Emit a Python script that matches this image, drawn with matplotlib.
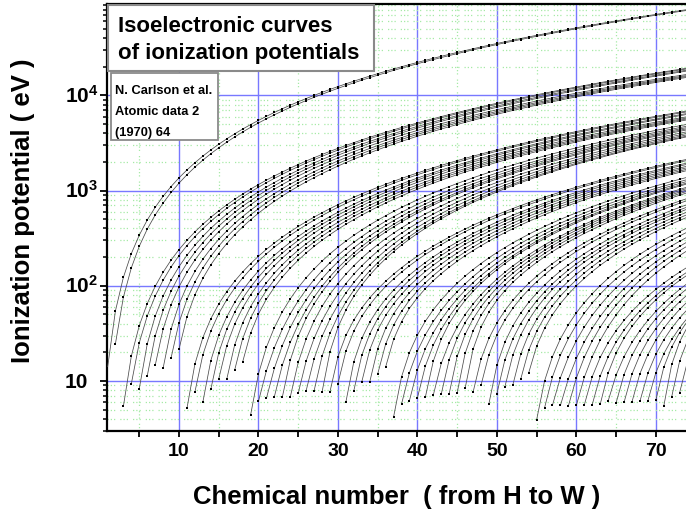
import numpy as np
import matplotlib
matplotlib.use("Agg")
import matplotlib.pyplot as plt
from matplotlib.ticker import FixedLocator, NullFormatter, LogLocator
from matplotlib.patches import Rectangle
from matplotlib import transforms

plt.rcParams["font.family"] = ["Liberation Sans", "DejaVu Sans"]
plt.rcParams["mathtext.fontset"] = "custom"
plt.rcParams["mathtext.rm"] = "Liberation Sans:bold"
plt.rcParams["mathtext.bf"] = "Liberation Sans:bold"
plt.rcParams["mathtext.it"] = "Liberation Sans:bold:italic"

# Elements shown on the x axis: hydrogen (Z=1) through tungsten (Z=74)
z_max = 74

# First ionization energies of the neutral atoms, Z = 1..74 (eV)
first_ip = [
    13.598, 24.587, 5.392, 9.323, 8.298, 11.260, 14.534, 13.618, 17.423, 21.565,
    5.139, 7.646, 5.986, 8.152, 10.487, 10.360, 12.968, 15.760, 4.341, 6.113,
    6.561, 6.828, 6.746, 6.767, 7.434, 7.902, 7.881, 7.640, 7.726, 9.394,
    5.999, 7.899, 9.789, 9.752, 11.814, 14.000, 4.177, 5.695, 6.217, 6.634,
    6.759, 7.092, 7.280, 7.361, 7.459, 8.337, 7.576, 8.994, 5.786, 7.344,
    8.608, 9.010, 10.451, 12.130, 3.894, 5.212, 5.577, 5.539, 5.473, 5.525,
    5.582, 5.644, 5.670, 6.150, 5.864, 5.939, 6.022, 6.108, 6.184, 6.254,
    5.426, 6.825, 7.550, 7.864,
]

# Second ionization energies, Z = 2..74 (eV): singly charged ions
second_ip = [
    54.418, 75.640, 18.211, 25.155, 24.383, 29.601, 35.121, 34.971, 40.963,
    47.286, 15.035, 18.829, 16.346, 19.770, 23.338, 23.814, 27.630,
    31.630, 11.872, 12.800, 13.576, 14.618, 16.486, 15.640, 16.199, 17.084,
    18.169, 20.292, 17.964, 20.515, 15.934, 18.589, 21.190, 21.810, 24.360,
    27.290, 11.030, 12.240, 13.130, 14.320, 16.160, 15.260, 16.760, 18.080,
    19.430, 21.480, 16.908, 18.870, 14.632, 16.530, 18.600, 19.131, 20.980,
    23.157, 10.004, 11.060, 10.850, 10.550, 10.730, 10.900, 11.070, 11.240,
    12.090, 11.520, 11.670, 11.800, 11.930, 12.050, 12.176, 13.900,
    14.900, 16.200, 16.100,
]

# Subshell filling order of highly charged ions (j-j coupling) and capacities
subshell_labels = ["1s", "2s", "2p-", "2p+", "3s", "3p-", "3p+", "3d-", "3d+",
                   "4s", "4p-", "4p+", "4d-", "4d+", "4f-", "4f+",
                   "5s", "5p-", "5p+", "5d-", "5d+"]
subshell_capacity = [2, 2, 2, 4, 2, 2, 4, 4, 6,
                     2, 2, 4, 4, 6, 6, 8,
                     2, 2, 4, 4, 6]

x_ticks = [10, 20, 30, 40, 50, 60, 70]
x_minor = [5, 15, 25, 35, 45, 55, 65]
y_ticks = [10, 100, 1000, 10000]
y_tick_labels = ["10", "$10^{2}$", "$10^{3}$", "$10^{4}$"]

RYDBERG = 13.6057
ALPHA = 1.0 / 137.036
L_OF = {"s": 0, "p": 1, "d": 2, "f": 3}


def outer_subshell(n_electrons):
    total = 0
    for label, cap in zip(subshell_labels, subshell_capacity):
        total += cap
        if n_electrons <= total:
            n = int(label[0])
            l = L_OF[label[1]]
            j = l - 0.5 if label.endswith("-") else l + 0.5
            return n, j
    return 5, 2.5


def isoelectronic_curve(n_el):
    """Screened-hydrogen (Moseley) scaling of the ionization potential along
    the sequence with n_el electrons, pinned to the neutral atom and the
    singly charged ion, with the Dirac fine-structure correction."""
    z = np.arange(n_el, z_max + 1)
    d = z - n_el
    n, j = outer_subshell(n_el)
    sqrt_ry = np.sqrt(RYDBERG)
    slope = sqrt_ry / n
    a = np.sqrt(first_ip[n_el - 1])
    b = np.sqrt(second_ip[n_el - 1]) - a if n_el < z_max else slope
    k = 2.0
    root = a + slope * d + (b - slope) * (1 - np.exp(-d / k)) / (1 - np.exp(-1 / k))
    z_eff = root * n / sqrt_ry
    rel = 1 + (z_eff * ALPHA) ** 2 / n ** 2 * (n / (j + 0.5) - 0.75)
    return z, root ** 2 * rel


W, H = 686, 515
fig = plt.figure(figsize=(W / 100, H / 100), dpi=100)
ax_left, ax_right, ax_top, ax_bottom = 107, 686, 3.5, 430.7
ax = fig.add_axes([ax_left / W, 1 - ax_bottom / H,
                   (ax_right - ax_left) / W, (ax_bottom - ax_top) / H])

for n_el in range(1, z_max + 1):
    z, ip = isoelectronic_curve(n_el)
    ax.plot(z, ip, color="#4a4a4a", lw=0.55, marker="s", ms=1.9,
            mfc="black", mec="black", mew=0, zorder=3)

ax.set_yscale("log")
ax.set_xlim(0.94, 73.8)
ax.set_ylim(3.0, 92500)

ax.xaxis.set_major_locator(FixedLocator(x_ticks))
ax.xaxis.set_minor_locator(FixedLocator(x_minor))
ax.yaxis.set_major_locator(FixedLocator(y_ticks))
ax.yaxis.set_minor_locator(LogLocator(base=10, subs=np.arange(2, 10)))
ax.yaxis.set_major_formatter(NullFormatter())
ax.yaxis.set_minor_formatter(NullFormatter())
ax.set_xticklabels([str(t) for t in x_ticks], fontsize=14, fontweight="bold")

ax.set_axisbelow(True)
ax.grid(which="major", color="#7878ff", lw=1.0, ls="-")
ax.grid(which="minor", color="#a6eaa6", lw=0.9, ls=(0, (1, 1.6, 1, 1.6, 1, 4)))

ax.tick_params(axis="x", which="both", direction="out", length=4, width=1.3, pad=5)
ax.tick_params(axis="y", which="major", direction="out", length=5, width=1.3)
ax.tick_params(axis="y", which="minor", direction="out", length=3, width=1.1)

for side in ("left", "bottom", "top"):
    ax.spines[side].set_linewidth(1.6)
    ax.spines[side].set_color("black")
ax.spines["right"].set_visible(False)

# y tick labels: the "10" parts share one left edge, exponents hang to the right
ylab_tr = transforms.blended_transform_factory(fig.transFigure, ax.transData)
for val, lab in zip(y_ticks, y_tick_labels):
    ax.text(65 / W, val, lab, transform=transforms.offset_copy(
        ylab_tr, fig=fig, y=-7.4, units="dots"),
        ha="left", va="baseline", fontsize=15, fontweight="bold")

fig.text(23 / W, 1 - 211 / H, "Ionization potential ( eV )", rotation=90,
         ha="center", va="center", fontsize=18.5, fontweight="bold")
fig.text(396.7 / W, 1 - 497 / H, "Chemical number  ( from H to W )",
         ha="center", va="center", fontsize=18.5, fontweight="bold")

# Title box
fig.add_artist(Rectangle((108 / W, 1 - 71 / H), 266 / W, 66 / H,
                         transform=fig.transFigure, facecolor="white",
                         edgecolor="#8a8a8a", lw=1.5, zorder=5))
fig.text(118 / W, 1 - 31.7 / H, "Isoelectronic curves", ha="left",
         va="baseline", fontsize=16, fontweight="bold", zorder=6)
fig.text(118 / W, 1 - 59.3 / H, "of ionization potentials", ha="left",
         va="baseline", fontsize=16, fontweight="bold", zorder=6)

# Reference box
fig.add_artist(Rectangle((110.7 / W, 1 - 140 / H), 107.3 / W, 67.3 / H,
                         transform=fig.transFigure, facecolor="white",
                         edgecolor="#8a8a8a", lw=1.3, zorder=5))
for yb, line in zip([94, 115, 136], ["N. Carlson et al.", "Atomic data 2", "(1970) 64"]):
    fig.text(115 / W, 1 - yb / H, line, ha="left", va="baseline",
             fontsize=9.3, fontweight="bold", zorder=6)

fig.savefig("out.png", dpi=100)
